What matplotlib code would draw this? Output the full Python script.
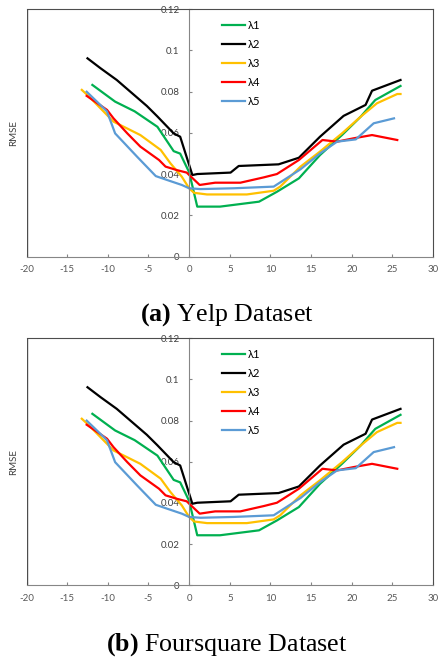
import matplotlib
matplotlib.use("Agg")
import matplotlib.pyplot as plt

plt.rcParams['mathtext.fontset'] = 'custom'
plt.rcParams['mathtext.rm'] = 'Liberation Serif'
plt.rcParams['mathtext.bf'] = 'Liberation Serif:bold'

# values (both panels show the same curves)
x1 = [-11.9, -9.1, -6.7, -3.9, -1.9, -1.1, 0.0, 1.0, 3.8, 8.6, 10.8, 13.5, 16.1, 18.8, 21.1, 22.9, 26.0]
l1 = [0.0833, 0.0752, 0.0705, 0.0630, 0.0512, 0.0500, 0.0410, 0.0243, 0.0243, 0.0267, 0.0315, 0.0380, 0.0493, 0.0590, 0.0679, 0.0760, 0.0828]

x2 = [-12.5, -10.9, -8.9, -5.2, -3.9, -1.9, -1.1, 0.4, 1.0, 5.1, 6.1, 11.0, 13.5, 16.1, 19.0, 21.7, 22.5, 26.0]
l2 = [0.0962, 0.0914, 0.0857, 0.0731, 0.0680, 0.0598, 0.0582, 0.0396, 0.0401, 0.0408, 0.0440, 0.0448, 0.0480, 0.0582, 0.0683, 0.0736, 0.0805, 0.0857]

x3 = [-13.2, -12.3, -9.3, -6.0, -3.5, -2.3, -0.9, 0.0, 0.6, 2.2, 7.1, 10.4, 11.2, 13.7, 16.1, 18.8, 21.1, 23.1, 25.6, 26.0]
l3 = [0.0809, 0.0776, 0.0655, 0.0590, 0.0518, 0.0453, 0.0388, 0.0332, 0.0310, 0.0302, 0.0302, 0.0320, 0.0340, 0.0437, 0.0510, 0.0598, 0.0679, 0.0744, 0.0789, 0.0789]

x4 = [-12.6, -10.1, -9.3, -7.6, -6.0, -3.7, -2.9, -1.5, -0.3, 1.3, 3.2, 6.3, 9.2, 10.8, 13.5, 16.4, 18.2, 20.2, 22.5, 25.6]
l4 = [0.0780, 0.0712, 0.0671, 0.0598, 0.0534, 0.0469, 0.0437, 0.0420, 0.0408, 0.0348, 0.0359, 0.0359, 0.0385, 0.0401, 0.0469, 0.0566, 0.0558, 0.0574, 0.0590, 0.0566]

x5 = [-12.6, -10.5, -10.1, -9.1, -6.4, -4.1, -2.7, -0.9, 0.0, 1.4, 5.5, 10.4, 13.7, 16.1, 18.2, 20.5, 22.7, 25.2]
l5 = [0.0800, 0.0720, 0.0704, 0.0598, 0.0485, 0.0391, 0.0372, 0.0348, 0.0332, 0.0328, 0.0332, 0.0340, 0.0424, 0.0501, 0.0558, 0.0569, 0.0647, 0.0671]

series = [(x1, l1, '#00B050', 'λ1'), (x2, l2, '#000000', 'λ2'), (x3, l3, '#FFC000', 'λ3'),
          (x4, l4, '#FF0000', 'λ4'), (x5, l5, '#5B9BD5', 'λ5')]

xticks = [-20, -15, -10, -5, 0, 5, 10, 15, 20, 25, 30]
yticks = [0, 0.02, 0.04, 0.06, 0.08, 0.1, 0.12]
yticklabels = ['0', '0.02', '0.04', '0.06', '0.08', '0.1', '0.12']
titles = [r'$\mathbf{(a)}$ Yelp Dataset', r'$\mathbf{(b)}$ Foursquare Dataset']

frame_col = '#4d4d4d'
axis_col = '#868686'
tick_font = 'Lato'


def draw_panel(ax):
    for xs, ys, col, lab in series:
        ax.plot(xs, ys, color=col, lw=1.6, label=lab)
    ax.set_xlim(-20, 30)
    ax.set_ylim(0, 0.12)
    ax.spines['left'].set_position(('data', 0))
    ax.spines['left'].set_color(axis_col)
    ax.spines['bottom'].set_color(axis_col)
    for s in ['top', 'right']:
        ax.spines[s].set_color(frame_col)
    ax.axvline(-20, color=frame_col, lw=1.0)
    ax.set_xticks(xticks)
    ax.set_xticklabels([str(v) for v in xticks])
    ax.set_yticks(yticks)
    ax.set_yticklabels(yticklabels)
    ax.tick_params(axis='x', direction='in', length=2.5, width=0.8, color=axis_col,
                   labelsize=7, labelcolor='#595959', pad=6.2)
    ax.tick_params(axis='y', direction='in', length=2.5, width=0.8, color=axis_col,
                   labelsize=7, labelcolor='#404040', pad=6.8)
    for t in ax.get_xticklabels() + ax.get_yticklabels():
        t.set_fontfamily(tick_font)
    ax.set_ylabel('RMSE', fontsize=7, family=tick_font, color='#404040')
    ax.yaxis.set_label_coords(-0.021, 0.5)
    ax.legend(loc='upper left', bbox_to_anchor=(0.481, 0.957), frameon=False,
              borderpad=0, borderaxespad=0, handlelength=2.1, handletextpad=0.25,
              labelspacing=0.72, prop={'family': tick_font, 'size': 8})


fig = plt.figure(figsize=(4.39, 6.6), dpi=100)
ax_top = fig.add_axes([0.0604, 0.611, 0.926, 0.375])
ax_bot = fig.add_axes([0.0604, 0.1132, 0.926, 0.3743])
draw_panel(ax_top)
draw_panel(ax_bot)

fig.text(0.517, 0.523, titles[0], ha='center', va='center', fontsize=18.7, family='Liberation Serif')
fig.text(0.517, 0.0227, titles[1], ha='center', va='center', fontsize=18.7, family='Liberation Serif')

plt.savefig('out.png', dpi=100)
